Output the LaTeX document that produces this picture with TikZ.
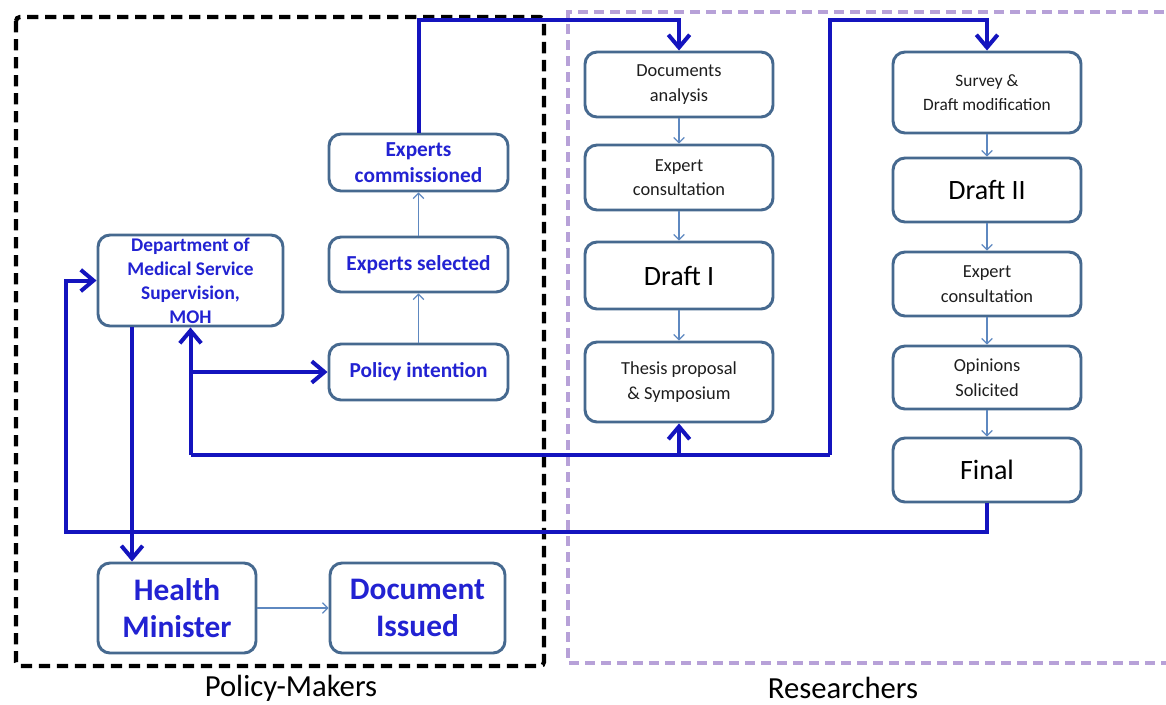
\documentclass[tikz,border=0pt]{standalone}
\usepackage{fontspec}
\setmainfont{Carlito}
\usetikzlibrary{arrows.meta,calc}

\definecolor{boxline}{HTML}{46698F}
\definecolor{flowblue}{HTML}{1414BE}
\definecolor{textblue}{HTML}{2222D2}
\definecolor{stepblue}{HTML}{5E88C0}
\definecolor{lavender}{HTML}{B7A1D8}
\definecolor{darktext}{HTML}{1E1E1E}

\tikzset{
  stagebox/.style={draw=boxline, line width=2.2pt, rounded corners=9pt,
    fill=white, align=center, inner sep=0pt},
  pmbox/.style={stagebox, text=textblue, font=\bfseries\fontsize{16}{20}\selectfont},
  rsbox/.style={stagebox, text=darktext, font=\fontsize{13.8}{18.5}\selectfont},
  bigbox/.style={stagebox, font=\fontsize{21}{25}\selectfont},
  flow/.style={draw=flowblue, line width=3pt, line join=miter},
  flowarrow/.style={flow, -{Straight Barb[length=9.5pt, width=16pt, line width=3pt]}},
  steparrow/.style={draw=stepblue, line width=0.9pt,
    -{Straight Barb[length=4pt, width=8pt, line width=0.9pt]}},
  grouplabel/.style={font=\fontsize{23}{26}\selectfont, text=black}
}

\begin{document}
\begin{tikzpicture}[x=0.75pt, y=-0.75pt]
  \useasboundingbox (0,0) rectangle (1166,704);
  \clip (0,0) rectangle (1166,704);

  % group frames
  \draw[line width=3.2pt, dash pattern=on 8.5pt off 5pt, rounded corners=3pt]
    (16,17) rectangle (544,666);
  \draw[lavender, line width=2.6pt, dash pattern=on 7.5pt off 4.5pt]
    (1180,12) -- (568,12) -- (568,663) -- (1180,663);
  \node[grouplabel] (pmlabel) at (291,688) {Policy-Makers};
  \node[grouplabel] (rslabel) at (843,688) {Researchers};

  % policy-maker stages
  \node[pmbox, minimum width=138.75pt, minimum height=68.25pt,
        font=\bfseries\fontsize{14.5}{18}\selectfont] (dept) at (190.5,280.5)
        {Department of\\Medical Service\\Supervision,\\MOH};
  \node[pmbox, minimum width=134.25pt, minimum height=42.75pt] (expc) at (418.5,162.5)
        {Experts\\commissioned};
  \node[pmbox, minimum width=134.25pt, minimum height=41.25pt] (exps) at (418.5,264.5)
        {Experts selected};
  \node[pmbox, minimum width=134.25pt, minimum height=42pt] (policy) at (418.5,372)
        {Policy intention};
  \node[pmbox, minimum width=118.5pt, minimum height=67.5pt,
        font=\bfseries\fontsize{23.5}{28}\selectfont] (health) at (177,608)
        {Health\\Minister};
  \node[pmbox, minimum width=131.25pt, minimum height=67.5pt,
        font=\bfseries\fontsize{23.5}{28}\selectfont] (issued) at (417.5,608)
        {Document\\Issued};

  % researcher stages, first round
  \node[rsbox, minimum width=141pt, minimum height=48.75pt] (docan) at (679,84.5)
        {Documents\\analysis};
  \node[rsbox, minimum width=141pt, minimum height=48.75pt] (cons1) at (679,177.5)
        {Expert\\consultation};
  \node[bigbox, minimum width=141pt, minimum height=50.25pt] (draft1) at (679,275.5)
        {Draft I};
  \node[rsbox, minimum width=141pt, minimum height=60pt] (thesis) at (679,382)
        {Thesis proposal\\\& Symposium};

  % researcher stages, second round
  \node[rsbox, minimum width=141pt, minimum height=60.75pt,
        font=\fontsize{13}{17.5}\selectfont] (survey) at (987,92.5)
        {Survey \&\\Draft modification};
  \node[bigbox, minimum width=141pt, minimum height=48pt] (draft2) at (987,190)
        {Draft II};
  \node[rsbox, minimum width=141pt, minimum height=48pt] (cons2) at (987,284)
        {Expert\\consultation};
  \node[rsbox, minimum width=141pt, minimum height=47.25pt] (opin) at (987,377.5)
        {Opinions\\Solicited};
  \node[bigbox, minimum width=141pt, minimum height=48pt] (final) at (987,470)
        {Final};

  % step arrows inside each column
  \draw[steparrow] (policy) -- (exps);
  \draw[steparrow] (exps) -- (expc);
  \draw[steparrow] (health) -- (issued);
  \draw[steparrow] (docan) -- (cons1);
  \draw[steparrow] (cons1) -- (draft1);
  \draw[steparrow] (draft1) -- (thesis);
  \draw[steparrow] (survey) -- (draft2);
  \draw[steparrow] (draft2) -- (cons2);
  \draw[steparrow] (cons2) -- (opin);
  \draw[steparrow] (opin) -- (final);

  % routing points of the main flow
  \coordinate (topA) at (0,20);
  \coordinate (feedback) at (190.5,455);
  \coordinate (riser) at (830,455);
  \coordinate (riserTop) at (830,20);
  \coordinate (returnLine) at (66,532);
  \coordinate (ministerLine) at (132,0);

  % experts hand over to the researchers
  \draw[flowarrow] (expc.north) |- (topA -| docan.north) -- (docan.north);

  % symposium feedback loop
  \draw[flow] (feedback) -- (riser);
  \draw[flowarrow] (feedback) -- (dept.south);
  \draw[flowarrow] (dept.south |- policy.west) -- (policy.west);
  \draw[flowarrow] (feedback -| thesis.south) -- (thesis.south);
  \draw[flowarrow] (riser) -- (riserTop) -- (riserTop -| survey.north) -- (survey.north);

  % final draft back to the department
  \draw[flowarrow] (final.south) |- (returnLine) |- (dept.west);

  % department to the minister
  \draw[flowarrow] (dept.south -| ministerLine) -- (health.north -| ministerLine);
\end{tikzpicture}
\end{document}
